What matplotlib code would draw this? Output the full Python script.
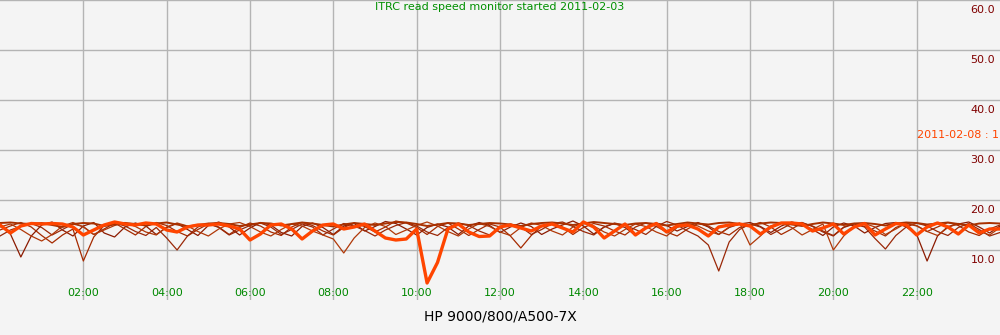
import numpy as np
from matplotlib import pyplot as plt
from matplotlib import transforms

# read speed samples, one every 15 minutes over the day (97 points)
sample_hours = np.arange(97) * 0.25

day_a = [15.2, 13.2, 8.6, 12.8, 15.0, 15.6, 14.0, 12.8, 14.8, 15.5, 13.4, 12.6,
         14.6, 15.4, 14.8, 13.1, 14.5, 15.3, 14.1, 12.9, 14.9, 15.6, 14.6, 13.0,
         14.4, 15.5, 15.0, 13.5, 12.8, 14.7, 15.4, 14.5, 13.1, 14.8, 15.3, 13.8,
         14.7, 15.7, 15.3, 14.2, 13.0, 14.5, 15.2, 14.6, 13.1, 14.8, 15.5, 14.9,
         13.5, 14.6, 15.4, 14.7, 13.1, 14.2, 15.0, 15.8, 14.8, 13.2, 14.6, 15.3,
         14.5, 13.0, 14.6, 15.4, 14.9, 13.8, 14.7, 15.5, 14.6, 13.1, 14.5, 15.2,
         15.5, 14.7, 13.5, 14.8, 15.6, 15.1, 14.1, 12.9, 14.6, 15.4, 14.8, 13.4,
         14.5, 15.3, 15.5, 14.6, 13.1, 7.8, 12.8, 14.7, 15.2, 15.6, 14.6, 13.4,
         14.8]
day_b = [14.0, 14.8, 15.5, 14.6, 12.9, 11.4, 13.0, 14.2, 7.8, 12.6, 14.9, 15.4,
         14.2, 13.0, 14.7, 15.5, 14.9, 13.7, 12.8, 14.1, 15.2, 14.6, 13.1, 14.5,
         15.4, 14.8, 13.6, 12.9, 14.6, 15.5, 14.9, 13.8, 13.0, 14.5, 15.4, 14.7,
         13.6, 14.6, 15.8, 15.4, 14.5, 13.1, 14.7, 15.4, 14.2, 12.9, 14.1, 15.2,
         14.6, 12.8, 10.4, 12.9, 14.8, 15.5, 14.6, 13.1, 14.5, 15.3, 14.8, 13.8,
         13.0, 14.6, 15.4, 14.7, 13.6, 12.8, 14.2, 15.3, 14.8, 13.7, 13.0, 14.5,
         14.9, 15.5, 14.6, 13.1, 14.2, 15.4, 14.8, 13.8, 12.9, 14.6, 15.3, 14.7,
         13.8, 12.8, 14.5, 15.3, 14.8, 13.7, 14.6, 15.5, 14.9, 13.6, 12.9, 14.2,
         15.0]
day_c = [12.8, 14.0, 14.7, 15.3, 14.5, 13.0, 14.1, 15.2, 14.7, 13.1, 14.2, 15.4,
         14.8, 13.7, 12.9, 14.5, 12.4, 10.0, 12.8, 14.6, 15.3, 14.5, 13.0, 14.0,
         14.9, 15.4, 14.6, 13.1, 14.1, 15.2, 14.6, 13.0, 14.2, 15.3, 14.8, 13.9,
         12.8, 14.0, 14.9, 15.5, 14.8, 13.6, 12.9, 14.5, 15.4, 14.9, 13.8, 13.0,
         14.5, 15.2, 14.6, 13.1, 14.1, 15.3, 15.6, 14.7, 13.7, 13.0, 14.6, 15.4,
         14.9, 14.1, 13.1, 14.7, 15.7, 15.0, 13.8, 12.8, 11.0, 5.8, 11.6, 14.1,
         15.2, 14.6, 13.1, 14.2, 15.3, 15.5, 14.7, 13.6, 12.8, 14.5, 15.2, 14.6,
         12.3, 10.2, 12.9, 14.6, 15.4, 14.8, 13.7, 12.9, 14.5, 15.3, 14.1, 12.8,
         13.5]
day_d = [14.6, 15.2, 14.1, 12.8, 11.8, 13.1, 14.8, 15.5, 14.6, 13.1, 14.0, 14.9,
         15.5, 14.7, 13.6, 13.0, 14.6, 15.4, 14.8, 13.7, 12.8, 14.2, 15.2, 15.5,
         14.7, 13.6, 12.8, 14.1, 15.2, 14.8, 13.8, 13.0, 12.2, 9.4, 12.4, 14.5,
         15.4, 14.7, 13.1, 14.0, 14.9, 15.6, 14.8, 13.7, 12.8, 14.2, 15.3, 14.7,
         13.6, 12.9, 14.5, 15.4, 14.9, 13.8, 13.0, 14.6, 15.5, 14.8, 13.6, 12.8,
         14.1, 15.2, 14.7, 13.6, 12.8, 14.5, 15.3, 14.8, 13.8, 13.1, 14.6, 15.4,
         11.0, 12.8, 14.8, 15.4, 14.5, 13.0, 14.1, 15.2, 10.0, 12.8, 14.7, 15.3,
         14.6, 13.1, 14.2, 15.4, 14.9, 13.7, 12.9, 14.5, 15.3, 14.8, 13.8, 13.0,
         14.5]
day_f = [15.4, 15.5, 15.3, 15.2, 15.4, 15.0, 14.6, 15.2, 15.4, 15.3, 14.8, 15.1,
         15.4, 15.2, 14.9, 15.3, 15.5, 15.1, 14.7, 15.0, 15.3, 15.4, 15.2, 14.8,
         15.1, 15.4, 15.3, 14.9, 15.2, 15.5, 15.3, 15.0, 14.7, 15.1, 15.4, 15.2,
         15.0, 15.3, 15.6, 15.5, 15.2, 14.8, 15.1, 15.4, 15.3, 15.0, 15.2, 15.4,
         15.3, 15.1, 14.8, 15.2, 15.4, 15.5, 15.3, 15.0, 15.3, 15.6, 15.4, 15.2,
         15.0, 15.3, 15.4, 15.2, 14.9, 15.2, 15.5, 15.3, 15.1, 15.4, 15.5, 15.2,
         15.0, 15.3, 15.5, 15.4, 15.1, 14.8, 15.2, 15.5, 15.3, 15.0, 15.3, 15.4,
         15.2, 14.9, 15.3, 15.5, 15.4, 15.1, 15.3, 15.5, 15.2, 14.9, 15.3, 15.4,
         15.3]
# today (2011-02-08), drawn thick
day_today = [15.0, 13.4, 14.8, 15.3, 15.2, 15.3, 15.2, 14.6, 13.0, 14.0, 15.0, 15.6,
             15.2, 15.0, 15.4, 15.2, 14.0, 13.6, 14.6, 15.0, 15.0, 15.2, 14.8, 14.2,
             12.0, 13.2, 15.0, 15.2, 14.2, 12.2, 13.8, 15.0, 15.2, 14.2, 14.6, 15.2,
             13.8, 12.4, 12.0, 12.2, 14.2, 3.4, 7.5, 14.2, 15.2, 13.6, 12.7, 12.8,
             14.6, 15.0, 14.4, 13.8, 14.8, 15.2, 14.4, 13.6, 15.6, 14.6, 12.4, 13.8,
             15.2, 13.0, 14.4, 15.3, 13.6, 14.8, 15.0, 14.2, 12.8, 14.6, 15.0, 15.2,
             14.8, 13.2, 14.6, 15.4, 15.4, 15.2, 13.8, 14.4, 15.2, 13.2, 14.6, 15.3,
             13.0, 14.2, 15.3, 15.0, 13.0, 14.6, 15.4, 14.6, 13.2, 15.0, 13.4, 14.2,
             14.2]

old_days = [day_a, day_b, day_c, day_d, day_f]
old_colors = ['#8b1a00', '#a52a00', '#9a2808', '#b03808', '#a83000']
old_widths = [0.9, 0.9, 0.9, 0.9, 1.4]

hour_ticks = [2, 4, 6, 8, 10, 12, 14, 16, 18, 20, 22]
hour_labels = ['02:00', '04:00', '06:00', '08:00', '10:00', '12:00',
               '14:00', '16:00', '18:00', '20:00', '22:00']
speed_ticks = [10, 20, 30, 40, 50, 60]

fig = plt.figure(figsize=(10, 3.35), dpi=100)
fig.patch.set_facecolor('#f4f4f4')
ax = fig.add_axes([0, 35 / 335, 1, 300 / 335])
ax.set_facecolor('#f4f4f4')
for s in ax.spines.values():
    s.set_visible(False)

for vals, c, lw in zip(old_days, old_colors, old_widths):
    ax.plot(sample_hours, vals, color=c, lw=lw, zorder=3)
ax.plot(sample_hours, day_today, color='#ff4500', lw=2.4, zorder=4)

ax.set_xlim(0, 24)
ax.set_ylim(0, 60)
ax.set_xticks(hour_ticks)
ax.set_yticks(speed_ticks)
ax.tick_params(length=0, labelbottom=False, labelleft=False)
ax.grid(True, color='#b4b4b4', lw=1, zorder=1)

# y labels sit inside, right-aligned under each grid line
ytr = transforms.blended_transform_factory(ax.transAxes, ax.transData)
for v in speed_ticks:
    ax.text(0.995, v - 1.0, f"{v:.1f}", transform=ytr, ha='right', va='top',
            fontsize=8, color='#800000')

# x labels inside the bottom of the plot
xtr = transforms.blended_transform_factory(ax.transData, ax.transAxes)
for h, lab in zip(hour_ticks, hour_labels):
    ax.text(h, 0.023, lab, transform=xtr, ha='center', va='center',
            fontsize=8, color='#008800')

ax.text(0.5, 0.978, 'ITRC read speed monitor started 2011-02-03',
        transform=ax.transAxes, ha='center', va='center', fontsize=8, color='#009000')
ax.text(917 / 1000, 33, '2011-02-08 : 1', transform=ytr, ha='left', va='center',
        fontsize=8, color='#ff4500', clip_on=False)
fig.text(0.5, 1 - 317 / 335, 'HP 9000/800/A500-7X', ha='center', va='center',
         fontsize=10, color='black')

plt.savefig('out.png', dpi=100, facecolor=fig.get_facecolor())
